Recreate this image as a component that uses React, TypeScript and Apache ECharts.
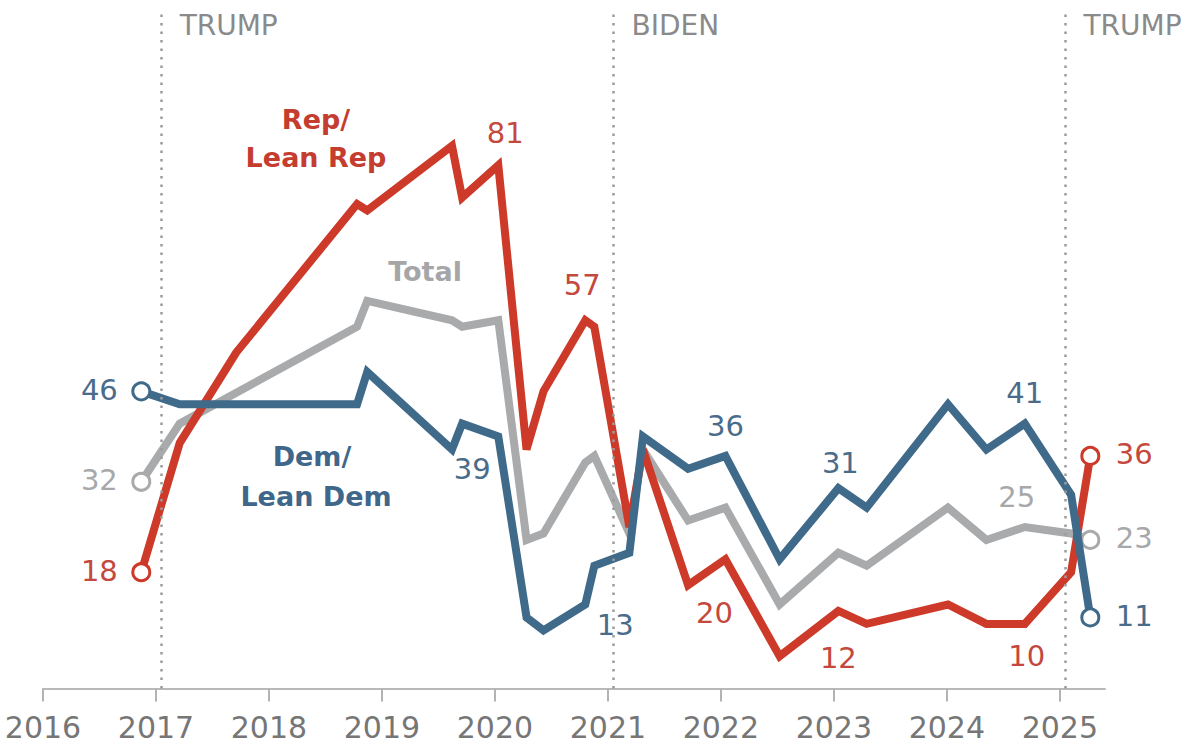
import React, { useEffect, useRef } from 'react';
import * as echarts from 'echarts';

// Survey dates (decimal years) and values
const dates = [2016.87, 2017.21, 2017.71, 2018.78, 2018.87, 2019.62, 2019.71, 2020.03, 2020.28, 2020.43, 2020.80, 2020.88, 2021.19, 2021.31, 2021.71, 2022.04, 2022.52, 2023.04, 2023.29, 2024.01, 2024.35, 2024.69, 2025.10, 2025.27];
const rep: (number | null)[] = [18, 38, 52, 75, 74, 84, 76, 81, 37, 46, 57, 56, 25, 37, 16, 20, 5, 12, 10, 13, 10, 10, 18, 36];
const total: (number | null)[] = [32, 41, null, 56, 60, 57, 56, 57, 23, 24, 35, 36, 24, 37, 26, 28, 13, 21, 19, 28, 23, 25, 24, 23];
const dem: (number | null)[] = [46, 44, null, 44, 49, 37, 41, 39, 11, 9, 13, 19, 21, 39, 34, 36, 20, 31, 28, 44, 37, 41, 30, 11];

const yearTicks = [2016, 2017, 2018, 2019, 2020, 2021, 2022, 2023, 2024, 2025];
const eraStarts = [2017.05, 2021.05, 2025.05];
const eraNames = ['TRUMP', 'BIDEN', 'TRUMP'];

// indices of points that carry a value label
const repLabelIdx = [0, 7, 10, 15, 17, 21, 23];
const demLabelIdx = [0, 7, 10, 15, 17, 21, 23];
const totalLabelIdx = [0, 21, 23];

const FONT = "'DejaVu Sans', Verdana, sans-serif";
const RED = '#cd3a2a';
const BLUE = '#3f6a8a';
const GREY = '#a9aaac';
const RED_TXT = '#c4483d';
const BLUE_TXT = '#4a6c8a';
const GREY_TXT = '#a7a8aa';

type Off = { dx: number; dy: number; align?: 'left' | 'right' | 'center' };
// label placement (style), keyed by point index
const repOff: Record<number, Off> = {
  0: { dx: -22, dy: 0, align: 'right' },
  7: { dx: 7, dy: -32 },
  10: { dx: -3, dy: -35 },
  15: { dx: -11, dy: 54 },
  17: { dx: 0, dy: 47 },
  21: { dx: 2, dy: 32 },
  23: { dx: 27, dy: 0, align: 'left' },
};
const demOff: Record<number, Off> = {
  0: { dx: -22, dy: 0, align: 'right' },
  7: { dx: -26, dy: 32 },
  10: { dx: 30, dy: 20 },
  15: { dx: 0, dy: -30 },
  17: { dx: 2, dy: -25 },
  21: { dx: 0, dy: -31 },
  23: { dx: 27, dy: 0, align: 'left' },
};
const totalOff: Record<number, Off> = {
  0: { dx: -22, dy: 0, align: 'right' },
  21: { dx: -8, dy: -30 },
  23: { dx: 27, dy: 0, align: 'left' },
};

function buildData(values: (number | null)[], labelIdx: number[], offs: Record<number, Off>, color: string, txt: string) {
  const out: any[] = [];
  dates.forEach((d, i) => {
    const v = values[i];
    if (v == null) return;
    const isEnd = i === 0 || i === dates.length - 1;
    const size = isEnd ? 17 : 0;
    const item: any = { value: [d, v], symbolSize: size };
    if (isEnd) item.itemStyle = { color: '#fff', borderColor: color, borderWidth: 3 };
    if (labelIdx.includes(i)) {
      const o = offs[i] || { dx: 0, dy: -30 };
      item.label = {
        show: true,
        position: [o.dx + size / 2, o.dy + size / 2],
        align: o.align || 'center',
        verticalAlign: 'middle',
        color: txt,
        fontFamily: FONT,
        fontSize: 29,
        textBorderWidth: 0,
        formatter: String(v),
      };
    }
    out.push(item);
  });
  return out;
}

export default function App() {
  const ref = useRef<HTMLDivElement>(null);
  useEffect(() => {
    if (!ref.current) return;
    const chart = echarts.init(ref.current, undefined, { renderer: 'svg' });
    const lineBase = (name: string, color: string, z: number) => ({
      name,
      type: 'line',
      z,
      symbol: 'circle',
      showSymbol: true,
      silent: true,
      emphasis: { disabled: true },
      lineStyle: { color, width: 8, join: 'miter', cap: 'butt' },
      itemStyle: { color },
    });
    const option: any = {
      animation: false,
      backgroundColor: '#ffffff',
      grid: { left: 43, right: 82, top: 10.2, bottom: 56.5, containLabel: false, outerBoundsMode: 'none' },
      xAxis: {
        type: 'value',
        min: 2016,
        max: 2025.4,
        interval: 1,
        splitLine: { show: false },
        axisLine: { show: true, lineStyle: { color: '#b9b9b9', width: 2 } },
        axisTick: { show: true, length: 13, customValues: yearTicks, lineStyle: { color: '#b3b3b3', width: 2 } },
        axisLabel: {
          customValues: yearTicks,
          fontSize: 30,
          fontFamily: FONT,
          color: '#767676',
          margin: 24,
          formatter: (v: number) => String(Math.round(v)),
        },
      },
      yAxis: { type: 'value', min: 0, max: 105, show: false },
      series: [
        {
          ...lineBase('Total', GREY, 2),
          data: buildData(total, totalLabelIdx, totalOff, GREY, GREY_TXT),
          markLine: {
            silent: true,
            symbol: 'none',
            label: { show: false },
            lineStyle: { type: [2.5, 6], color: '#9c9c9c', width: 2.5 },
            data: eraStarts.map((x) => ({ xAxis: x })),
          },
        },
        { ...lineBase('Rep/Lean Rep', RED, 3), data: buildData(rep, repLabelIdx, repOff, RED, RED_TXT) },
        { ...lineBase('Dem/Lean Dem', BLUE, 4), data: buildData(dem, demLabelIdx, demOff, BLUE, BLUE_TXT) },
      ],
    };
    chart.setOption(option);

    const eraTexts = eraStarts.map((x, k) => {
      const px = chart.convertToPixel({ xAxisIndex: 0 }, x) as number;
      return {
        type: 'text',
        x: px + 18,
        y: 25,
        silent: true,
        style: { text: eraNames[k], fontFamily: FONT, fontSize: 28, fill: '#8a8a8a', align: 'left', verticalAlign: 'middle' },
      };
    });
    const nameText = (text: string, x: number, y: number, fill: string) => ({
      type: 'text',
      x,
      y,
      silent: true,
      style: { text, fontFamily: FONT, fontSize: 27, fontWeight: 'bold', fill, align: 'center', verticalAlign: 'middle' },
    });
    chart.setOption({
      graphic: [
        ...eraTexts,
        nameText('Rep/', 316, 119, '#c43d2f'),
        nameText('Lean Rep', 316, 157, '#c43d2f'),
        nameText('Total', 425, 271, '#a5a6a8'),
        nameText('Dem/', 312, 456.5, '#40678a'),
        nameText('Lean Dem', 316, 496, '#40678a'),
      ],
    });
    return () => chart.dispose();
  }, []);
  return <div ref={ref} style={{ position: 'fixed', left: 0, top: 0, width: 1187, height: 745 }} />;
}
